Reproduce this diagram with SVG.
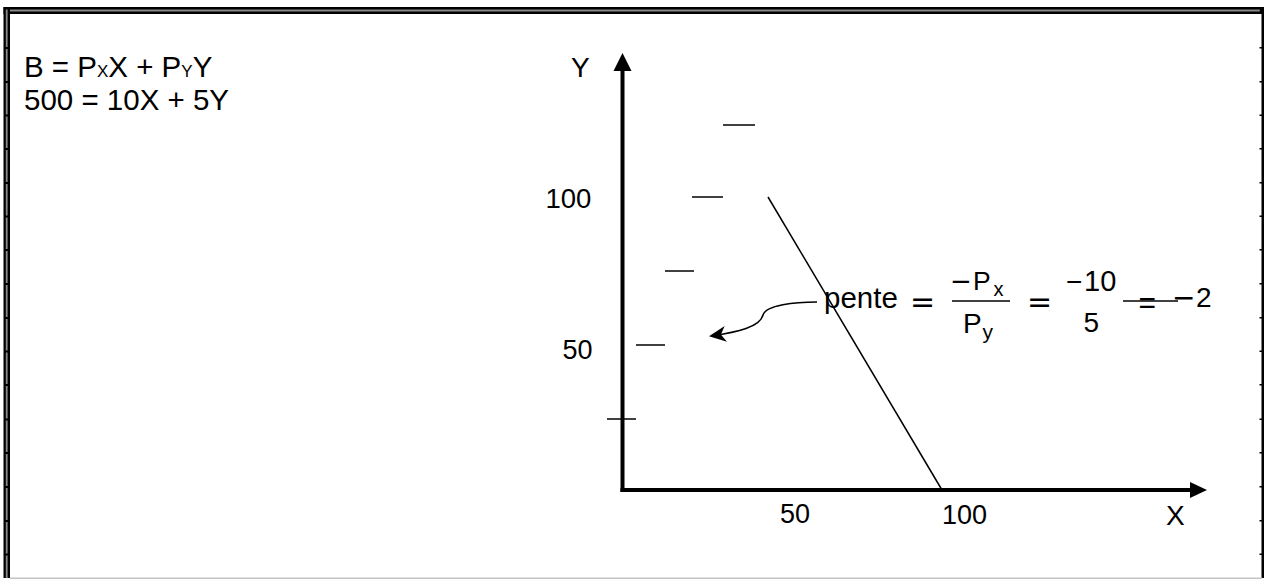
<svg xmlns="http://www.w3.org/2000/svg" width="1265" height="579" viewBox="0 0 1265 579">
  <style>
    .t { font-family: "Liberation Sans", Arial, sans-serif; fill: #000; }
    .m { font-family: "DejaVu Sans", sans-serif; fill: #000; }
    .thin { stroke: #000; stroke-width: 1.5; fill: none; }
    .axis { stroke: #000; stroke-width: 4; fill: none; }
  </style>
  <defs>
    <marker id="curveHead" markerUnits="userSpaceOnUse" markerWidth="20" markerHeight="20" refX="15" refY="8" orient="auto">
      <path d="M17,8 L0,0 L5,8 L0,16 Z" fill="#000"/>
    </marker>
  </defs>
  <rect x="0" y="0" width="1265" height="579" fill="#fff"/>

  <!-- page border -->
  <g id="border">
    <rect x="3.5" y="7" width="1258.5" height="7" fill="#000"/>
    <rect x="5.8" y="9.5" width="1254" height="2" fill="#8a8a8a"/>
    <rect x="3.5" y="7" width="6.5" height="571" fill="#000"/>
    <rect x="5.8" y="9.5" width="1.8" height="568.5" fill="#8a8a8a"/>
    <rect x="1261.5" y="7" width="2.5" height="571" fill="#000"/>
    <line x1="10" y1="578.2" x2="1262" y2="578.2" stroke="#c4c4c4" stroke-width="1.5"/>
    <g fill="#000">
      <rect x="5" y="47" width="4" height="2"/><rect x="5" y="81" width="4" height="2"/>
      <rect x="5" y="114.5" width="4" height="2"/><rect x="5" y="148" width="4" height="2"/>
      <rect x="5" y="182" width="4" height="2"/><rect x="5" y="215.5" width="4" height="2"/>
      <rect x="5" y="249" width="4" height="2"/><rect x="5" y="283" width="4" height="2"/>
      <rect x="5" y="317" width="4" height="2"/><rect x="5" y="350.5" width="4" height="2"/>
      <rect x="5" y="384" width="4" height="2"/><rect x="5" y="418.5" width="4" height="2"/>
      <rect x="5" y="452" width="4" height="2"/><rect x="5" y="486" width="4" height="2"/>
      <rect x="5" y="520" width="4" height="2"/><rect x="5" y="553.5" width="4" height="2"/>
      <rect x="1259.5" y="47" width="2.5" height="1.5"/><rect x="1259.5" y="81" width="2.5" height="1.5"/>
      <rect x="1259.5" y="114.5" width="2.5" height="1.5"/><rect x="1259.5" y="148" width="2.5" height="1.5"/>
      <rect x="1259.5" y="182" width="2.5" height="1.5"/><rect x="1259.5" y="215.5" width="2.5" height="1.5"/>
      <rect x="1259.5" y="249" width="2.5" height="1.5"/><rect x="1259.5" y="283" width="2.5" height="1.5"/>
      <rect x="1259.5" y="317" width="2.5" height="1.5"/><rect x="1259.5" y="350.5" width="2.5" height="1.5"/>
      <rect x="1259.5" y="384" width="2.5" height="1.5"/><rect x="1259.5" y="418.5" width="2.5" height="1.5"/>
      <rect x="1259.5" y="452" width="2.5" height="1.5"/><rect x="1259.5" y="486" width="2.5" height="1.5"/>
      <rect x="1259.5" y="520" width="2.5" height="1.5"/><rect x="1259.5" y="553.5" width="2.5" height="1.5"/>
    </g>
  </g>

  <!-- equations top-left -->
  <g id="equations" class="t" font-size="29.5">
    <text x="24" y="77">B = P<tspan font-size="17">X</tspan>X + P<tspan font-size="17">Y</tspan>Y</text>
    <text x="24" y="110">500 = 10X + 5Y</text>
  </g>

  <!-- axes -->
  <g id="axes">
    <line class="axis" x1="622.5" y1="492" x2="622.5" y2="68"/>
    <polygon points="622.5,53 613.5,71 631.5,71" fill="#000"/>
    <line class="axis" x1="620.5" y1="490" x2="1192" y2="490"/>
    <polygon points="1207,490 1190,482 1190,498" fill="#000"/>
    <line class="thin" x1="607" y1="419" x2="636" y2="419"/>
    <text class="t" x="571" y="77" font-size="28">Y</text>
    <text class="t" x="1166" y="525" font-size="28">X</text>
    <text class="t" x="545.5" y="208" font-size="27.5">100</text>
    <text class="t" x="562.5" y="359" font-size="27">50</text>
    <text class="t" x="780" y="523" font-size="27">50</text>
    <text class="t" x="942" y="524" font-size="27">100</text>
  </g>

  <!-- dashes -->
  <g id="dashes" class="thin">
    <line x1="723" y1="125" x2="755" y2="125"/>
    <line x1="692" y1="197" x2="723" y2="197"/>
    <line x1="665" y1="271" x2="694" y2="271"/>
    <line x1="636" y1="345" x2="665" y2="345"/>
  </g>

  <!-- budget line -->
  <g id="budget-line">
    <line class="thin" x1="768" y1="197" x2="942" y2="490"/>
  </g>

  <!-- connectors -->
  <g id="connectors">
    <path class="thin" d="M817,302 C795,302 766,305 763,315 C760,327 738,332 711,336" marker-end="url(#curveHead)"/>
  </g>

  <!-- slope formula -->
  <g id="slope">
    <text class="t" x="824" y="308" font-size="29.5">pente</text>
    <text class="m" x="910" y="312" font-size="30">=</text>
    <text class="t" x="950" y="290" font-size="26"><tspan class="m">−</tspan><tspan x="973" font-size="26.5">P</tspan><tspan x="993.5" y="296" font-size="20">x</tspan></text>
    <line class="thin" x1="952" y1="301" x2="1010" y2="301"/>
    <text class="t" x="963" y="333" font-size="28">P<tspan x="982.5" y="339" font-size="21">y</tspan></text>
    <text class="m" x="1027" y="312" font-size="30">=</text>
    <text class="t" x="1066" y="290.5" font-size="28">−</text>
    <text class="t" x="1084" y="291" font-size="29">10</text>
    <text class="t" x="1083.5" y="332" font-size="28">5</text>
    <line class="thin" x1="1123" y1="301" x2="1178" y2="301"/>
    <text class="t" x="1138.5" y="312.5" font-size="30">=</text>
    <text class="m" x="1172" y="307" font-size="28">−<tspan class="t" x="1196" font-size="28">2</tspan></text>
  </g>
</svg>
